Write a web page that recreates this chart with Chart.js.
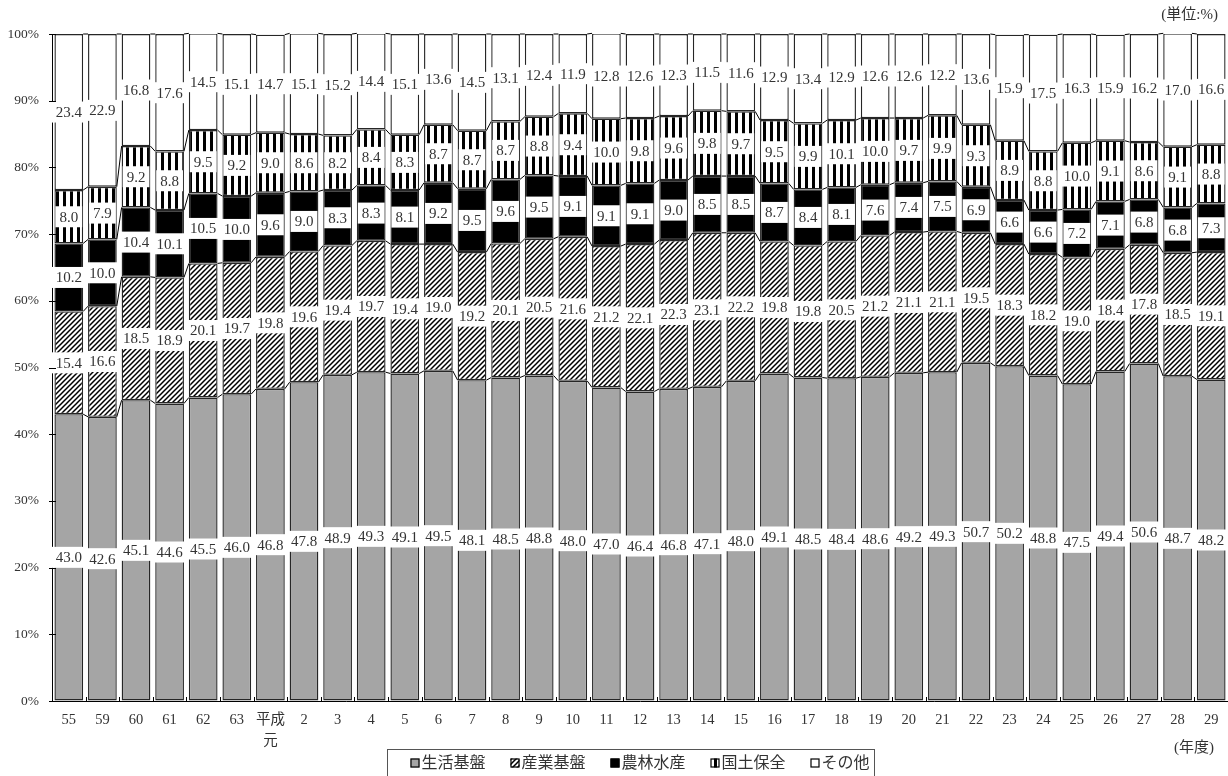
<!DOCTYPE html>
<html lang="ja">
<head>
<meta charset="utf-8">
<script src="https://cdn.jsdelivr.net/npm/chart.js@4.4.1/dist/chart.umd.min.js"></script>
<style>
  html, body { margin: 0; padding: 0; background: #fff; overflow: hidden; }
  #wrap { position: relative; width: 1228px; height: 776px; }
</style>
</head>
<body>
<div id="wrap"><canvas id="c" width="1228" height="776"></canvas></div>
<script>
// 年度
const years = ['55', '59', '60', '61', '62', '63', ['平成', '元'],
  '2', '3', '4', '5', '6', '7', '8', '9', '10', '11', '12', '13', '14', '15',
  '16', '17', '18', '19', '20', '21', '22', '23', '24', '25', '26', '27', '28', '29'];

// 構成比 (%)
const seikatsu = [43.0, 42.6, 45.1, 44.6, 45.5, 46.0, 46.8, 47.8, 48.9, 49.3, 49.1, 49.5, 48.1, 48.5, 48.8, 48.0, 47.0, 46.4,
  46.8, 47.1, 48.0, 49.1, 48.5, 48.4, 48.6, 49.2, 49.3, 50.7, 50.2, 48.8, 47.5, 49.4, 50.6, 48.7, 48.2];
const sangyo = [15.4, 16.6, 18.5, 18.9, 20.1, 19.7, 19.8, 19.6, 19.4, 19.7, 19.4, 19.0, 19.2, 20.1, 20.5, 21.6, 21.2, 22.1,
  22.3, 23.1, 22.2, 19.8, 19.8, 20.5, 21.2, 21.1, 21.1, 19.5, 18.3, 18.2, 19.0, 18.4, 17.8, 18.5, 19.1];
const norin = [10.2, 10.0, 10.4, 10.1, 10.5, 10.0, 9.6, 9.0, 8.3, 8.3, 8.1, 9.2, 9.5, 9.6, 9.5, 9.1, 9.1, 9.1,
  9.0, 8.5, 8.5, 8.7, 8.4, 8.1, 7.6, 7.4, 7.5, 6.9, 6.6, 6.6, 7.2, 7.1, 6.8, 6.8, 7.3];
const kokudo = [8.0, 7.9, 9.2, 8.8, 9.5, 9.2, 9.0, 8.6, 8.2, 8.4, 8.3, 8.7, 8.7, 8.7, 8.8, 9.4, 10.0, 9.8,
  9.6, 9.8, 9.7, 9.5, 9.9, 10.1, 10.0, 9.7, 9.9, 9.3, 8.9, 8.8, 10.0, 9.1, 8.6, 9.1, 8.8];
const sonota = [23.4, 22.9, 16.8, 17.6, 14.5, 15.1, 14.7, 15.1, 15.2, 14.4, 15.1, 13.6, 14.5, 13.1, 12.4, 11.9, 12.8, 12.6,
  12.3, 11.5, 11.6, 12.9, 13.4, 12.9, 12.6, 12.6, 12.2, 13.6, 15.9, 17.5, 16.3, 15.9, 16.2, 17.0, 16.6];

const seriesNames = ['生活基盤', '産業基盤', '農林水産', '国土保全', 'その他'];
const yTickValues = [0, 10, 20, 30, 40, 50, 60, 70, 80, 90, 100];
const unitLabel = '(単位:%)';
const yearLabel = '(年度)';

const SERIF = '"Liberation Serif", "Noto Sans CJK JP", serif';

// hatch fills
function diagonalHatch() {
  const s = 5;
  const c = document.createElement('canvas');
  c.width = s; c.height = s;
  const g = c.getContext('2d');
  g.fillStyle = '#fff';
  g.fillRect(0, 0, s, s);
  g.strokeStyle = '#000';
  g.lineWidth = 1.5;
  g.beginPath();
  g.moveTo(-1, s + 1); g.lineTo(s + 1, -1);
  g.moveTo(-1, 1); g.lineTo(1, -1);
  g.moveTo(s - 1, s + 1); g.lineTo(s + 1, s - 1);
  g.stroke();
  return g.createPattern(c, 'repeat');
}
function verticalHatch() {
  const c = document.createElement('canvas');
  c.width = 7; c.height = 4;
  const g = c.getContext('2d');
  g.fillStyle = '#fff';
  g.fillRect(0, 0, 7, 4);
  g.fillStyle = '#000';
  g.fillRect(0, 0, 3, 4);
  return g.createPattern(c, 'repeat');
}

const fills = ['#a5a5a5', diagonalHatch(), '#000000', verticalHatch(), '#ffffff'];
const seriesData = [seikatsu, sangyo, norin, kokudo, sonota];

const datasets = seriesData.map((d, i) => ({
  label: seriesNames[i],
  data: d,
  backgroundColor: fills[i],
  borderColor: '#262626',
  borderWidth: 1.4,
  borderSkipped: false,
  categoryPercentage: 1.0,
  barPercentage: 0.855
}));

// series lines, value boxes, inner ticks, notes and legend
const decorations = {
  id: 'decorations',
  afterDatasetsDraw(chart) {
    const ctx = chart.ctx;
    const area = chart.chartArea;
    const metas = chart.data.datasets.map((_, i) => chart.getDatasetMeta(i));

    // lines joining the top of each segment to the next bar
    ctx.save();
    ctx.strokeStyle = '#000';
    ctx.lineWidth = 1;
    metas.forEach(meta => {
      const bars = meta.data;
      for (let i = 0; i < bars.length - 1; i++) {
        const a = bars[i].getProps(['x', 'y', 'width'], true);
        const b = bars[i + 1].getProps(['x', 'y', 'width'], true);
        ctx.beginPath();
        ctx.moveTo(a.x + a.width / 2, a.y);
        ctx.lineTo(b.x - b.width / 2, b.y);
        ctx.stroke();
      }
    });
    ctx.restore();

    // value boxes
    ctx.save();
    ctx.font = '15px ' + SERIF;
    ctx.textAlign = 'center';
    ctx.textBaseline = 'middle';
    metas.forEach((meta, di) => {
      const values = chart.data.datasets[di].data;
      meta.data.forEach((bar, i) => {
        const p = bar.getProps(['x', 'y', 'base'], true);
        const txt = values[i].toFixed(1);
        const cy = (p.y + p.base) / 2;
        const w = ctx.measureText(txt).width + 8;
        const h = 21;
        ctx.fillStyle = '#ffffff';
        ctx.fillRect(p.x - w / 2, cy - h / 2, w, h);
        ctx.fillStyle = '#333333';
        ctx.fillText(txt, p.x, cy + 1);
      });
    });
    ctx.restore();

    // tick marks on the inner side of the axes
    const ys = chart.scales.y, xs = chart.scales.x;
    ctx.save();
    ctx.strokeStyle = '#000';
    ctx.lineWidth = 1;
    yTickValues.forEach(v => {
      const py = Math.round(ys.getPixelForValue(v)) + 0.5;
      ctx.beginPath();
      ctx.moveTo(area.left - 3, py);
      ctx.lineTo(area.left + 4, py);
      ctx.stroke();
    });
    for (let i = 1; i < years.length; i++) {
      const px = Math.round((xs.getPixelForValue(i - 1) + xs.getPixelForValue(i)) / 2) + 0.5;
      ctx.beginPath();
      ctx.moveTo(px, area.bottom);
      ctx.lineTo(px, area.bottom - 4);
      ctx.stroke();
    }
    ctx.restore();
  },
  afterDraw(chart) {
    const ctx = chart.ctx;
    const area = chart.chartArea;
    ctx.save();
    ctx.fillStyle = '#333333';
    ctx.font = '15px ' + SERIF;
    ctx.textAlign = 'right';
    ctx.textBaseline = 'middle';
    ctx.fillText(unitLabel, area.right - 10, 15);
    ctx.fillText(yearLabel, area.right - 14, 748);

    // legend
    ctx.font = '16px ' + SERIF;
    ctx.textAlign = 'left';
    const box = 9, boxGap = 2, itemGap = 25;
    const widths = seriesNames.map(n => box + boxGap + ctx.measureText(n).width);
    const total = widths.reduce((s, w) => s + w, 0) + itemGap * (widths.length - 1);
    const cx = (area.left + area.right) / 2;
    let x = cx - total / 2;
    const cy = 763;
    const left0 = x;
    seriesNames.forEach((name, i) => {
      const ds = chart.data.datasets[i];
      ctx.fillStyle = ds.backgroundColor;
      ctx.fillRect(x, cy - box / 2, box, box);
      ctx.strokeStyle = '#000';
      ctx.lineWidth = 1.2;
      ctx.strokeRect(x + 0.5, cy - box / 2 + 0.5, box - 1, box - 1);
      ctx.fillStyle = '#333333';
      ctx.fillText(name, x + box + boxGap, cy + 1);
      x += widths[i] + itemGap;
    });
    const right0 = x - itemGap;
    ctx.strokeStyle = '#555';
    ctx.lineWidth = 1;
    ctx.strokeRect(Math.round(left0 - 23) + 0.5, 749.5, Math.round(right0 - left0 + 28), 30);
    ctx.restore();
  }
};

new Chart(document.getElementById('c'), {
  type: 'bar',
  data: { labels: years, datasets },
  options: {
    responsive: false,
    animation: false,
    devicePixelRatio: 1,
    layout: { padding: { top: 34, right: 0, left: 0, bottom: 0 } },
    plugins: {
      legend: { display: false },
      tooltip: { enabled: false },
      title: { display: false }
    },
    scales: {
      x: {
        stacked: true,
        offset: true,
        grid: { display: true, drawOnChartArea: false, drawTicks: false },
        border: { display: true, color: '#000', width: 1 },
        ticks: {
          color: '#333333',
          font: { family: SERIF, size: 14.5, lineHeight: 1.5 },
          padding: 8,
          maxRotation: 0,
          autoSkip: false
        },
        afterFit(scale) { scale.height = 75; }
      },
      y: {
        stacked: true,
        min: 0,
        max: 100,
        grid: { display: true, drawOnChartArea: false, drawTicks: false },
        border: { display: true, color: '#000', width: 1 },
        afterBuildTicks(scale) { scale.ticks = yTickValues.map(v => ({ value: v })); },
        ticks: {
          color: '#333333',
          font: { family: SERIF, size: 13.5 },
          padding: 13,
          callback: v => v + '%'
        },
        afterFit(scale) { scale.width = 52; }
      }
    }
  },
  plugins: [decorations]
});
</script>
</body>
</html>
